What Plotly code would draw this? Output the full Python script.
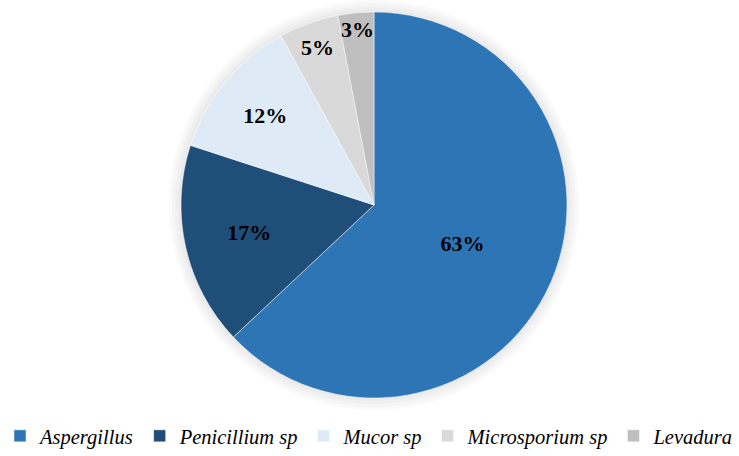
import plotly.graph_objects as go

categories = ["Aspergillus", "Penicillium sp", "Mucor sp", "Microsporium sp", "Levadura"]
values = [63, 17, 12, 5, 3]
colors = ["#2E75B6", "#1F4E79", "#DEEBF7", "#D9D9D9", "#BFBFBF"]

W, H = 739, 456
cx, cy, r = 374, 205, 193
SERIF = "Liberation Serif"


def dom(rad):
    clip = lambda v: min(1.0, max(0.0, v))
    return dict(x=[clip((cx - rad) / W), clip((cx + rad) / W)],
                y=[clip(1 - (cy + rad) / H), clip(1 - (cy - rad) / H)])


fig = go.Figure()

# soft shadow halo behind the pie
for extra in [12, 9, 6, 3]:
    fig.add_trace(go.Pie(
        labels=["shadow"], values=[1], sort=False,
        marker=dict(colors=["rgba(0,0,0,0.018)"], line=dict(width=0)),
        textinfo="none", hoverinfo="skip", showlegend=False,
        domain=dom(r + extra),
    ))

fig.add_trace(go.Pie(
    labels=categories,
    values=values,
    sort=False,
    direction="clockwise",
    rotation=0,
    marker=dict(colors=colors, line=dict(color="rgba(255,255,255,0.6)", width=0.8)),
    textinfo="percent",
    texttemplate="<b>%{percent:.0%}</b>",
    textposition="inside",
    insidetextorientation="horizontal",
    textfont=dict(family=SERIF, size=22, color="#000000"),
    domain=dom(r),
    hoverinfo="label+percent",
))

fig.update_layout(
    width=W, height=H,
    margin=dict(l=0, r=0, t=0, b=0),
    paper_bgcolor="white",
    plot_bgcolor="white",
    showlegend=True,
    font=dict(family=SERIF),
    uniformtext=dict(minsize=22, mode="show"),
    legend=dict(
        orientation="h",
        x=0.5, xanchor="center",
        y=0.0, yanchor="bottom",
        font=dict(family=SERIF, size=20.5, color="#000000", style="italic"),
        itemwidth=30,
        tracegroupgap=0,
    ),
)

fig.write_html("out.html", config={"displayModeBar": False},
               post_script="document.body.style.margin='0';")
